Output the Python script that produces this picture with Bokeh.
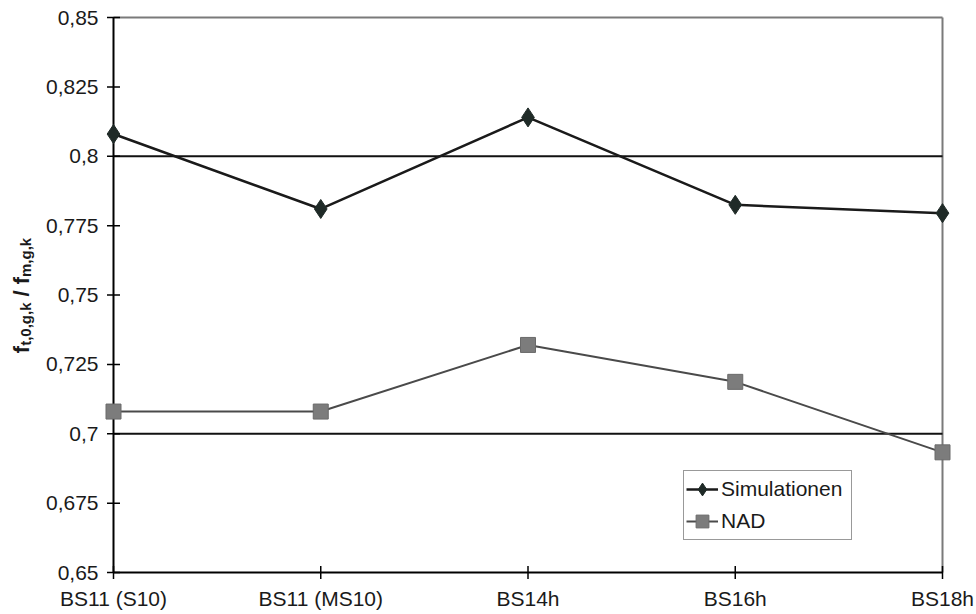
import math
from bokeh.plotting import figure
from bokeh.models import Range1d, Label, Legend, LegendItem
from bokeh.core.properties import value
from bokeh.embed import file_html
from bokeh.resources import INLINE

# ---- data ----
categories = ["BS11 (S10)", "BS11 (MS10)", "BS14h", "BS16h", "BS18h"]
simulationen = [0.808, 0.781, 0.814, 0.7825, 0.7795]
nad = [0.708, 0.708, 0.732, 0.7187, 0.6933]
y_ticks = [0.65, 0.675, 0.7, 0.725, 0.75, 0.775, 0.8, 0.825, 0.85]
y_tick_labels = ["0,65", "0,675", "0,7", "0,725", "0,75", "0,775", "0,8", "0,825", "0,85"]
ref_levels = [0.8, 0.7]

x_pos = list(range(len(categories)))
x_lo, x_hi = x_pos[0], x_pos[-1]
y_lo, y_hi = y_ticks[0], y_ticks[-1]

FONT = "Liberation Sans"
W, H = 974, 612
# screen geometry of the axes box (canvas px)
X0_PX, X1_PX = 113, 942
YT_PX, YB_PX = 17, 572
sx = (X1_PX - X0_PX) / (x_hi - x_lo)
sy = (YB_PX - YT_PX) / (y_hi - y_lo)

p = figure(width=W, height=H, output_backend="svg", toolbar_location=None,
           x_range=Range1d(x_lo - X0_PX / sx, x_hi + (W - X1_PX) / sx),
           y_range=Range1d(y_lo - (H - YB_PX) / sy, y_hi + YT_PX / sy),
           min_border=0)
p.background_fill_color = "white"
p.border_fill_color = "white"
p.outline_line_color = None
p.xaxis.visible = False
p.yaxis.visible = False
p.xgrid.visible = False
p.ygrid.visible = False

# grey top / right border
p.segment(x0=[x_lo, x_hi], x1=[x_hi, x_hi], y0=[y_hi, y_lo], y1=[y_hi, y_hi],
          line_color="#7a7a7a", line_width=2)
# reference lines
p.segment(x0=[x_lo] * len(ref_levels), x1=[x_hi] * len(ref_levels),
          y0=ref_levels, y1=ref_levels, line_color="#111111", line_width=2)
# black axes lines
p.segment(x0=[x_lo, x_lo], x1=[x_hi, x_lo], y0=[y_lo, y_lo], y1=[y_lo, y_hi],
          line_color="black", line_width=2)
# ticks
p.scatter(x=[x_lo] * len(y_ticks), y=y_ticks, marker="dash", size=13,
          line_color="black", line_width=1.5)
p.scatter(x=x_pos, y=[y_lo] * len(x_pos), marker="dash", angle=math.pi / 2, size=13,
          line_color="black", line_width=1.5)
# tick labels
p.text(x=[x_lo] * len(y_ticks), y=y_ticks, text=y_tick_labels, x_offset=-15,
       text_align="right", text_baseline="middle", text_font=value(FONT),
       text_font_size="21px", text_color="#1a1a1a")
p.text(x=x_pos, y=[y_lo] * len(x_pos), text=categories, y_offset=14,
       text_align="center", text_baseline="top", text_font=value(FONT),
       text_font_size="21px", text_color="#1a1a1a")

sim_line = p.line(x_pos, simulationen, line_color="#1a1a1a", line_width=2.5)
sim_pts = p.scatter(x_pos, simulationen, marker="diamond", size=19,
                    fill_color="#1f2a27", line_color="#1f2a27")
nad_line = p.line(x_pos, nad, line_color="#4a4a4a", line_width=2)
nad_pts = p.scatter(x_pos, nad, marker="square", size=15,
                    fill_color="#7c7c7c", line_color="#6a6a6a")

legend = Legend(items=[LegendItem(label="Simulationen", renderers=[sim_line, sim_pts]),
                       LegendItem(label="NAD", renderers=[nad_line, nad_pts])],
                location=(683, H - 540))
legend.label_text_font = FONT
legend.label_text_font_size = "21px"
legend.label_text_color = "#1a1a1a"
legend.glyph_width = 32
legend.glyph_height = 32
legend.label_standoff = 3
legend.label_width = 128
legend.padding = 2
legend.spacing = 0
legend.margin = 0
legend.border_line_color = "#333333"
legend.border_line_width = 1.5
legend.background_fill_alpha = 1
p.add_layout(legend)

# ---- y axis label built from pieces (bold, with subscripts) ----
bold_w = {"f": 0.333, "t": 0.333, ",": 0.278, "0": 0.556, "g": 0.611, "k": 0.556,
          "/": 0.278, "m": 0.889}
# (text, font px, baseline shift, gap before)
pieces = [("f", 22, 0, 0), ("t,0,g,k", 15, -4, 0), ("/", 22, 0, 6),
          ("f", 22, 0, 6), ("m,g,k", 15, -4, 0)]
total = sum(sum(bold_w[c] for c in s) * fs + g for s, fs, _, g in pieces)
base_x = 21
cur = H - (295 + total / 2)
for s, fs, dx, g in pieces:
    cur += g
    p.add_layout(Label(x=base_x - dx, y=cur, x_units="screen", y_units="screen", text=s,
                       angle=math.pi / 2, text_font=FONT, text_font_style="bold",
                       text_font_size=f"{fs}px", text_color="#1a1a1a",
                       text_align="left", text_baseline="alphabetic"))
    cur += sum(bold_w[c] for c in s) * fs

open("out.html", "w").write(file_html(p, INLINE))
